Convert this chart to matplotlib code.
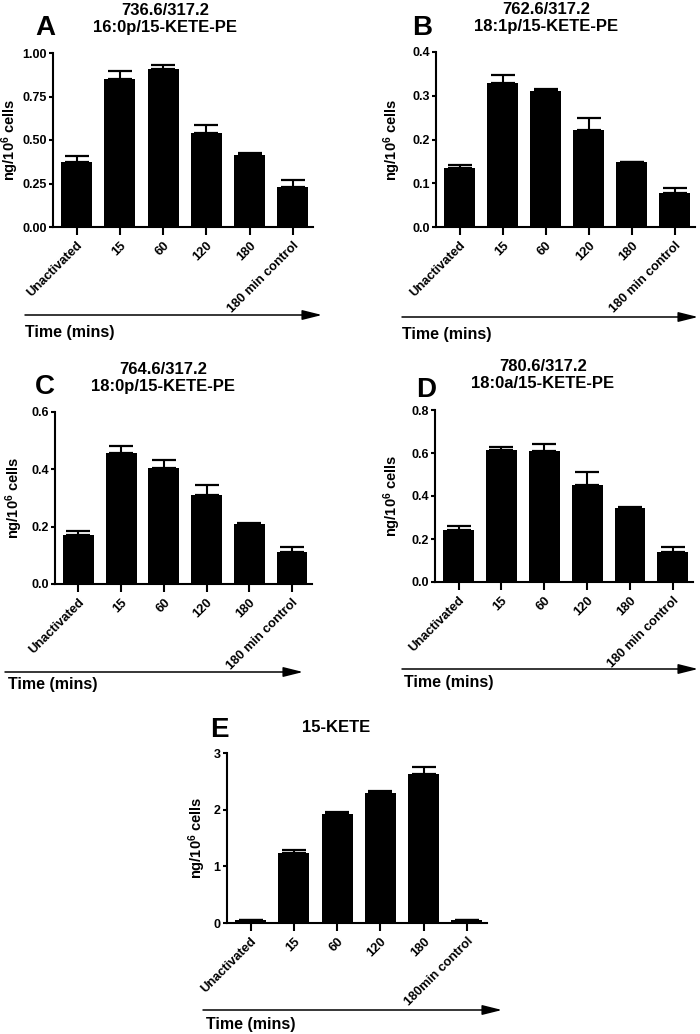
import matplotlib
matplotlib.use('Agg')
import matplotlib.pyplot as plt
import numpy as np

plt.rcParams['font.family'] = ['Liberation Sans', 'DejaVu Sans']
plt.rcParams['font.weight'] = 'bold'
plt.rcParams['mathtext.fontset'] = 'custom'
plt.rcParams['mathtext.rm'] = 'Liberation Sans:bold'
plt.rcParams['mathtext.bf'] = 'Liberation Sans:bold'
plt.rcParams['mathtext.default'] = 'bf'

# groups
groups = ['Unactivated', '15', '60', '120', '180', '180 min control']
groups_e = ['Unactivated', '15', '60', '120', '180', '180min control']

# panel A: 736.6/317.2 16:0p/15-KETE-PE
a_mean = [0.372, 0.852, 0.908, 0.542, 0.412, 0.232]
a_top = [0.406, 0.895, 0.929, 0.586, 0.423, 0.272]
# panel B: 762.6/317.2 18:1p/15-KETE-PE
b_mean = [0.135, 0.330, 0.312, 0.221, 0.148, 0.078]
b_top = [0.142, 0.347, 0.316, 0.249, 0.149, 0.090]
# panel C: 764.6/317.2 18:0p/15-KETE-PE
c_mean = [0.171, 0.457, 0.403, 0.309, 0.211, 0.110]
c_top = [0.185, 0.482, 0.432, 0.345, 0.213, 0.130]
# panel D: 780.6/317.2 18:0a/15-KETE-PE
d_mean = [0.243, 0.612, 0.609, 0.453, 0.346, 0.140]
d_top = [0.260, 0.628, 0.643, 0.510, 0.347, 0.163]
# panel E: 15-KETE
e_mean = [0.047, 1.241, 1.924, 2.300, 2.635, 0.047]
e_top = [0.050, 1.282, 1.953, 2.329, 2.747, 0.050]

W, H = 700, 1034
fig = plt.figure(figsize=(W / 100, H / 100), dpi=100)


def fx(px):
    return px / W


def fy(py):
    return 1 - py / H


panels = [
    # letter, title, mean, top, labels, yticks, fmt, axes box (l, r, t, b), ylabel right x,
    # letter xy, title xy, arrow (x0, x1, y), time xy
    ('A', '736.6/317.2\n16:0p/15-KETE-PE', a_mean, a_top, groups, [0, 0.25, 0.5, 0.75, 1.0], '{:.2f}',
     (53, 313, 53, 227), 21, (45, 28), (165, 19), (25, 322, 315), (25, 333)),
    ('B', '762.6/317.2\n18:1p/15-KETE-PE', b_mean, b_top, groups, [0, 0.1, 0.2, 0.3, 0.4], '{:.1f}',
     (436, 695, 52, 227), 403, (422, 28), (546, 18), (402, 698, 317), (402, 334)),
    ('C', '764.6/317.2\n18:0p/15-KETE-PE', c_mean, c_top, groups, [0, 0.2, 0.4, 0.6], '{:.1f}',
     (55, 312, 412, 584), 25, (45, 387), (163, 378), (5, 303, 672), (8, 685)),
    ('D', '780.6/317.2\n18:0a/15-KETE-PE', d_mean, d_top, groups, [0, 0.2, 0.4, 0.6, 0.8], '{:.1f}',
     (435, 693, 410, 582), 403, (426, 390), (543, 375), (402, 698, 669), (404, 683)),
    ('E', '15-KETE', e_mean, e_top, groups_e, [0, 1, 2, 3], '{:.0f}',
     (227, 487, 753, 923), 208, (219, 730), (336, 727), (203, 502, 1010), (206, 1025)),
]

for letter, title, mean, top, labels, yt, fmt, box, ylx, lxy, txy, arr, tixy in panels:
    l, r, t, b = box
    ax = fig.add_axes([fx(l), fy(b), fx(r) - fx(l), (b - t) / H])
    x = np.arange(len(mean))
    err = np.subtract(top, mean)
    ax.bar(x, mean, width=0.72, color='black', zorder=2)
    ax.errorbar(x, mean, yerr=[np.zeros(len(mean)), err], fmt='none', ecolor='black',
                elinewidth=1.5, capsize=8.5, capthick=1.6, zorder=1)
    ax.set_xlim(-0.55, len(mean) - 0.53)
    ax.set_ylim(yt[0], yt[-1])
    ax.set_yticks(yt)
    ax.set_yticklabels([fmt.format(v) for v in yt], fontsize=9, fontweight='bold')
    ax.set_xticks(x)
    ax.set_xticklabels(labels, rotation=45, ha='right', rotation_mode='anchor',
                       fontsize=9.3, fontweight='bold')
    for s in ['top', 'right']:
        ax.spines[s].set_visible(False)
    for s in ['left', 'bottom']:
        ax.spines[s].set_linewidth(1.5)
    ax.tick_params(axis='y', width=1.5, length=3, pad=1.5)
    ax.tick_params(axis='x', width=1.5, length=6, pad=3)
    ax.set_ylabel(r'ng/10$^{6}$ cells', fontsize=10.5, fontweight='bold')
    ax.yaxis.set_label_coords((ylx - l) / (r - l), 0.5)

    fig.text(fx(lxy[0]), fy(lxy[1]), letter, fontsize=20, fontweight='bold', ha='center', va='center')
    fig.text(fx(txy[0]), fy(txy[1]), title, fontsize=12, fontweight='bold', ha='center', va='center',
             linespacing=1.1)
    fig.add_artist(matplotlib.patches.FancyArrowPatch(
        (fx(arr[0]), fy(arr[2])), (fx(arr[1]), fy(arr[2])), transform=fig.transFigure,
        arrowstyle='-|>,head_length=1.2,head_width=0.3', mutation_scale=10, linewidth=1.1,
        color='black', shrinkA=0, shrinkB=0))
    fig.text(fx(tixy[0]), fy(tixy[1]), 'Time (mins)', fontsize=11.5, fontweight='bold', ha='left', va='center')

fig.savefig('out.png', dpi=100)
